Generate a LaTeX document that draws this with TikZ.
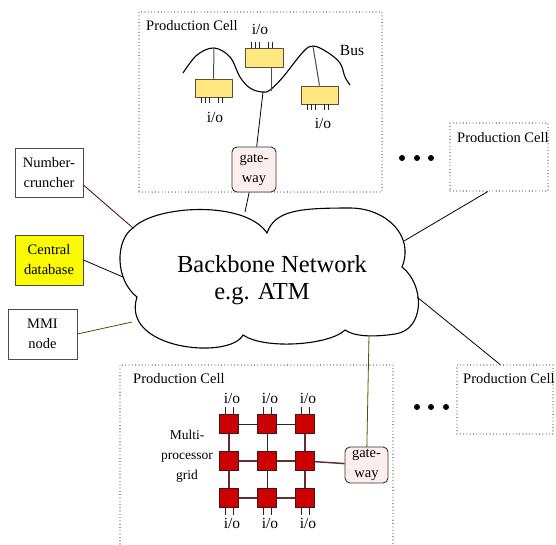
\documentclass[tikz,border=0pt]{standalone}
\usepackage{fontspec}
\setmainfont{Liberation Serif}
\definecolor{boxyel}{RGB}{255,232,128}
\definecolor{boxyeldraw}{RGB}{90,80,60}
\definecolor{gridred}{RGB}{204,0,0}
\definecolor{gridreddraw}{RGB}{70,20,20}
\definecolor{gwfill}{RGB}{253,238,238}
\definecolor{maroonline}{RGB}{80,0,0}
\definecolor{oliveline}{RGB}{80,80,0}
\definecolor{gridbrown}{RGB}{100,45,45}
\definecolor{dbyellow}{RGB}{250,250,0}
\tikzset{
  lbl/.style={font=\fontsize{14.5}{20}\selectfont, inner sep=0pt},
  iolbl/.style={font=\fontsize{15.5}{18}\selectfont, inner sep=0pt, anchor=base},
  cellbox/.style={draw=black!85, line width=1.1pt, line cap=round, dash pattern=on 0pt off 3.3pt, inner sep=0pt},
  sidebox/.style={draw=black!70, line width=0.9pt, align=center, font=\fontsize{14.5}{20}\selectfont, inner sep=0pt},
  gwbox/.style={draw=black!80, fill=gwfill, rounded corners=5pt, line width=0.9pt, align=center, font=\fontsize{14.5}{20}\selectfont, inner sep=0pt},
  busbox/.style={draw=boxyeldraw, fill=boxyel, line width=0.9pt, minimum width=37pt, minimum height=18pt, inner sep=0pt},
  procbox/.style={draw=gridreddraw, fill=gridred, line width=0.8pt, minimum size=19pt, inner sep=0pt},
  pinline/.style={draw=black!85, line width=0.9pt},
  conn/.style={line width=0.8pt},
  gedge/.style={draw=gridbrown, line width=1.5pt},
  gedgeb/.style={draw=black!85, line width=1pt},
  dotmark/.style={circle, fill=black, inner sep=0pt, minimum size=6pt},
}
\begin{document}
\begin{tikzpicture}[x=1pt,y=-1pt]
\useasboundingbox (0,0) rectangle (556,544);

% ---------- production cell boxes ----------
\node[cellbox, minimum width=243pt, minimum height=180pt] (cell1) at (260.5,102) {};
\node[cellbox, minimum width=98pt, minimum height=68pt] (cell2) at (499,157) {};
\node[cellbox, minimum width=96pt, minimum height=69pt] (cell3) at (505,399.5) {};
\draw[cellbox] (120,544) -- (120,365) -- (393,365) -- (393,544);
\coordinate (cell4) at (256,365);

\node[lbl, anchor=base west] (t1) at (146,30) {Production Cell};
\node[lbl, anchor=base west] (t2) at (457,142) {Production Cell};
\node[lbl, anchor=base west] (t3) at (463,383) {Production Cell};
\node[lbl, anchor=base west] (t4) at (133,383) {Production Cell};

% ---------- dots ----------
\node[dotmark] (d1) at (402,158) {};
\node[dotmark] (d2) at (417,158) {};
\node[dotmark] (d3) at (431,158) {};
\node[dotmark] (d4) at (417,407) {};
\node[dotmark] (d5) at (431,407) {};
\node[dotmark] (d6) at (446,407) {};

% ---------- bus ----------
\draw[line width=1.1pt] plot[smooth, tension=0.6] coordinates {
  (183,73) (197,55) (214,48) (230,57) (240,77) (250,88) (262,92) (270,90)
  (283,77) (303,52) (313,46) (327,52) (340,63) (345,77) (350,85)};
\coordinate (pk1) at (214,48.5);
\coordinate (busj) at (263,92);
\coordinate (busm) at (271,90.5);
\coordinate (pk2) at (313,46.5);
\node[font=\fontsize{15.5}{18}\selectfont, anchor=base, inner sep=0pt] (bus) at (352,55) {Bus};

\node[busbox] (bl) at (213.5,88) {};
\node[busbox, minimum width=38pt, minimum height=19pt] (bm) at (264,57.5) {};
\node[busbox] (br) at (319.5,95) {};

\draw[draw=black!70, line width=1pt] (pk1) -- (bl.north);
\draw[draw=black!70, line width=1pt] (bm.south -| busm) -- (busm);
\draw[draw=black!70, line width=1pt] (pk2) -- (br.north);

\foreach \dx in {7,11,15,24,28} {
  \draw[pinline] ([xshift=\dx pt]bl.south west) -- ++(0,6);
  \draw[pinline] ([xshift=\dx pt]bm.north west) -- ++(0,-6);
  \draw[pinline] ([xshift=\dx pt]br.south west) -- ++(0,6);
}
\node[iolbl] (io1) at (260,34) {i/o};
\node[iolbl] (io2) at (215,122) {i/o};
\node[iolbl] (io3) at (323,128) {i/o};

\node[gwbox, minimum width=44pt, minimum height=45pt] (gw1) at (254,169.5) {gate-\\way};
\draw[conn] (busj) -- (gw1);

% ---------- cloud ----------
\draw[line width=1.1pt, fill=white]
  (133,228) .. controls (155,205) and (245,200) .. (267,233)
  .. controls (275,210) and (300,208) .. (350,208)
  .. controls (385,208) and (415,235) .. (402,267)
  .. controls (425,285) and (425,330) .. (395,334)
  .. controls (375,337) and (355,337) .. (345,330)
  .. controls (330,345) and (265,350) .. (243,335)
  .. controls (230,360) and (120,350) .. (137,297)
  .. controls (115,280) and (115,240) .. (133,228) -- cycle;
\coordinate (cl-nc) at (133,228);
\coordinate (cl-db) at (123,277);
\coordinate (cl-mmi) at (132,322);
\coordinate (cl-top) at (245,212);
\coordinate (cl-r1) at (404,241);
\coordinate (cl-r2) at (417,297);
\coordinate (cl-bot) at (369,335.5);
\node[font=\fontsize{24.5}{28}\selectfont, anchor=base, inner sep=0pt] (bb1) at (272,272) {Backbone Network};
\node[font=\fontsize{24.5}{28}\selectfont, anchor=base, inner sep=0pt] (bb2) at (262,299) {e.g. ATM};

\draw[conn] (gw1) -- (cl-top);
\draw[conn] (cl-r1) -- (cell2.-108);
\draw[conn] (cl-r2) -- (cell3.98);

% ---------- side boxes ----------
\node[sidebox, minimum width=68pt, minimum height=49pt] (nc) at (49,172.5) {Number-\\cruncher};
\node[sidebox, fill=dbyellow, minimum width=68pt, minimum height=50pt] (db) at (49,260) {Central\\database};
\node[sidebox, minimum width=69pt, minimum height=50pt] (mmi) at (42.5,334) {MMI\\node};
\draw[conn, draw=maroonline] (nc.-20) -- (cl-nc);
\draw[conn] (db.east) -- (cl-db);
\draw[conn, draw=oliveline] (mmi.east) -- (cl-mmi);

% ---------- processor grid ----------
\foreach \r/\y in {1/424,2/461,3/498} {
  \foreach \c/\x in {1/229,2/267,3/305} {
    \node[procbox] (p\r\c) at (\x,\y) {};
  }
}
\draw[gedgeb] (p11) -- (p12);
\draw[gedgeb] (p12) -- (p13);
\draw[gedge] (p21) -- (p22);
\draw[gedge] (p22) -- (p23);
\draw[gedge] (p31) -- (p32);
\draw[gedge] (p32) -- (p33);
\draw[gedge] (p11) -- (p21);
\draw[gedge] (p21) -- (p31);
\draw[gedgeb] (p12) -- (p22);
\draw[gedgeb] (p22) -- (p32);
\draw[gedge] (p13) -- (p23);
\draw[gedge] (p23) -- (p33);

\foreach \c in {1,2,3} {
  \draw[pinline, draw=gridreddraw] ([xshift=-4pt]p1\c.north) -- ++(0,-7);
  \draw[pinline, draw=gridreddraw] ([xshift=4pt]p1\c.north) -- ++(0,-7);
  \draw[pinline, draw=gridreddraw] ([xshift=-4pt]p3\c.south) -- ++(0,7);
  \draw[pinline, draw=gridreddraw] ([xshift=4pt]p3\c.south) -- ++(0,7);
}
\node[iolbl] (gio1) at (232,403) {i/o};
\node[iolbl] (gio2) at (270,403) {i/o};
\node[iolbl] (gio3) at (308,403) {i/o};
\node[iolbl] (gio4) at (232,528) {i/o};
\node[iolbl] (gio5) at (270,528) {i/o};
\node[iolbl] (gio6) at (308,528) {i/o};

\node[font=\fontsize{13.5}{20}\selectfont, align=center, inner sep=0pt] (mpg) at (187,456) {Multi-\\processor\\grid};

\node[gwbox, minimum width=43pt, minimum height=36pt] (gw2) at (366.5,465) {gate-\\way};
\draw[gedge] (p23) -- (gw2);
\draw[conn, draw=oliveline] (cl-bot) -- (gw2);
\end{tikzpicture}
\end{document}
